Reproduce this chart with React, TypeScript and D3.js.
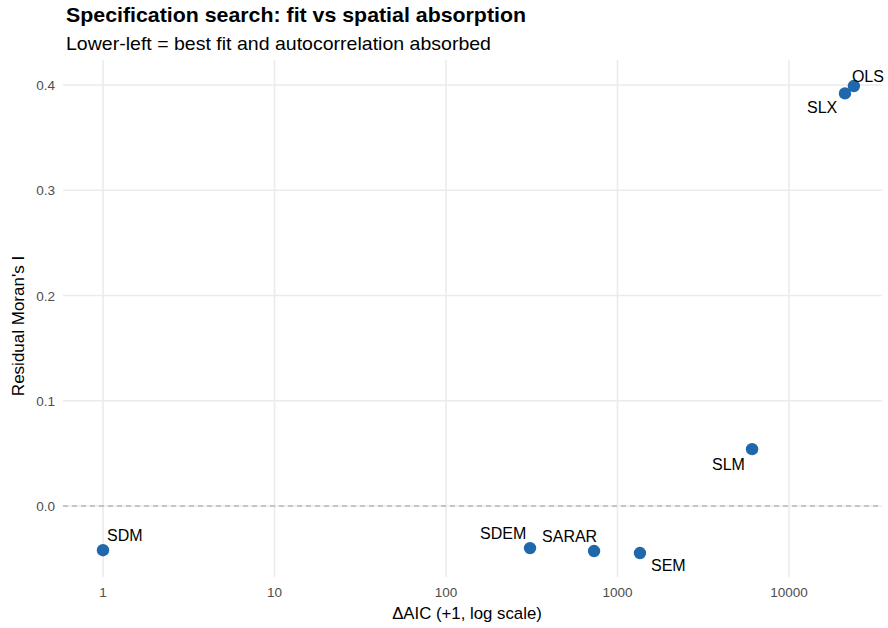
import React from "react";
import * as d3 from "d3";

const models = ["OLS", "SLX", "SLM", "SEM", "SARAR", "SDEM", "SDM"];
const deltaAicPlus1 = [23900, 21200, 6090, 1352, 730, 309, 1];
const moransI = [0.399, 0.392, 0.054, -0.0447, -0.0428, -0.040, -0.042];
const xTicks = [1, 10, 100, 1000, 10000];
const yTicks = [0.0, 0.1, 0.2, 0.3, 0.4];
// label nudges (px) relative to each point: [dx, dy]
const labelNudge: [number, number][] = [
  [-2, -4],
  [-38, 20],
  [-40, 21],
  [11, 18],
  [-52, -9],
  [-50, -9],
  [4, -9],
];

const W = 888;
const H = 628;
const panel = { left: 63, right: 882, top: 60, bottom: 577 };
const FONT = "'Liberation Sans', Arial, Helvetica, sans-serif";

export default function App() {
  const x = d3
    .scaleLog()
    .domain([Math.pow(10, (63 - 103) / 171.5), Math.pow(10, (882 - 103) / 171.5)])
    .range([panel.left, panel.right]);
  const y = d3
    .scaleLinear()
    .domain([0.4 + 25 / 1052.5, -71 / 1052.5])
    .range([panel.top, panel.bottom]);

  return (
    <svg width={W} height={H} style={{ position: "absolute", left: 0, top: 0, background: "#fff" }} fontFamily={FONT}>
      <rect x={0} y={0} width={W} height={H} fill="#fff" />
      {/* grid */}
      {yTicks.map((t) => (
        <line key={"gy" + t} x1={panel.left} x2={panel.right} y1={y(t)} y2={y(t)} stroke="#ebebeb" strokeWidth={1.6} />
      ))}
      {xTicks.map((t) => (
        <line key={"gx" + t} x1={x(t)} x2={x(t)} y1={panel.top} y2={panel.bottom} stroke="#ebebeb" strokeWidth={1.6} />
      ))}
      {/* zero reference */}
      <line x1={panel.left} x2={panel.right} y1={y(0)} y2={y(0)} stroke="#999999" strokeWidth={1.2} strokeDasharray="5,4" />
      {/* points */}
      {models.map((m, i) => (
        <circle key={"p" + m} cx={x(deltaAicPlus1[i])} cy={y(moransI[i])} r={6.2} fill="#1f68ab" />
      ))}
      {/* labels */}
      {models.map((m, i) => (
        <text
          key={"l" + m}
          x={x(deltaAicPlus1[i]) + labelNudge[i][0]}
          y={y(moransI[i]) + labelNudge[i][1]}
          fontSize={16}
          fill="#000"
        >
          {m}
        </text>
      ))}
      {/* y tick labels */}
      {yTicks.map((t) => (
        <text key={"yt" + t} x={55} y={y(t) + 5} textAnchor="end" fontSize={13.5} fill="#4d4d4d">
          {d3.format(".1f")(t)}
        </text>
      ))}
      {/* x tick labels */}
      {xTicks.map((t) => (
        <text key={"xt" + t} x={x(t)} y={597} textAnchor="middle" fontSize={13.5} fill="#4d4d4d">
          {String(t)}
        </text>
      ))}
      {/* axis titles */}
      <text x={467} y={619} textAnchor="middle" fontSize={16.8} fill="#000">
        ΔAIC (+1, log scale)
      </text>
      <text
        transform={`translate(24, 326) rotate(-90)`}
        textAnchor="middle"
        fontSize={17}
        fill="#000"
      >
        Residual Moran's I
      </text>
      {/* title */}
      <text x={66} y={22} fontSize={20.5} fontWeight="bold" fill="#000" textLength={460} lengthAdjust="spacingAndGlyphs">
        Specification search: fit vs spatial absorption
      </text>
      <text x={66} y={50} fontSize={19} fill="#000" textLength={425} lengthAdjust="spacingAndGlyphs">
        Lower-left = best fit and autocorrelation absorbed
      </text>
    </svg>
  );
}
